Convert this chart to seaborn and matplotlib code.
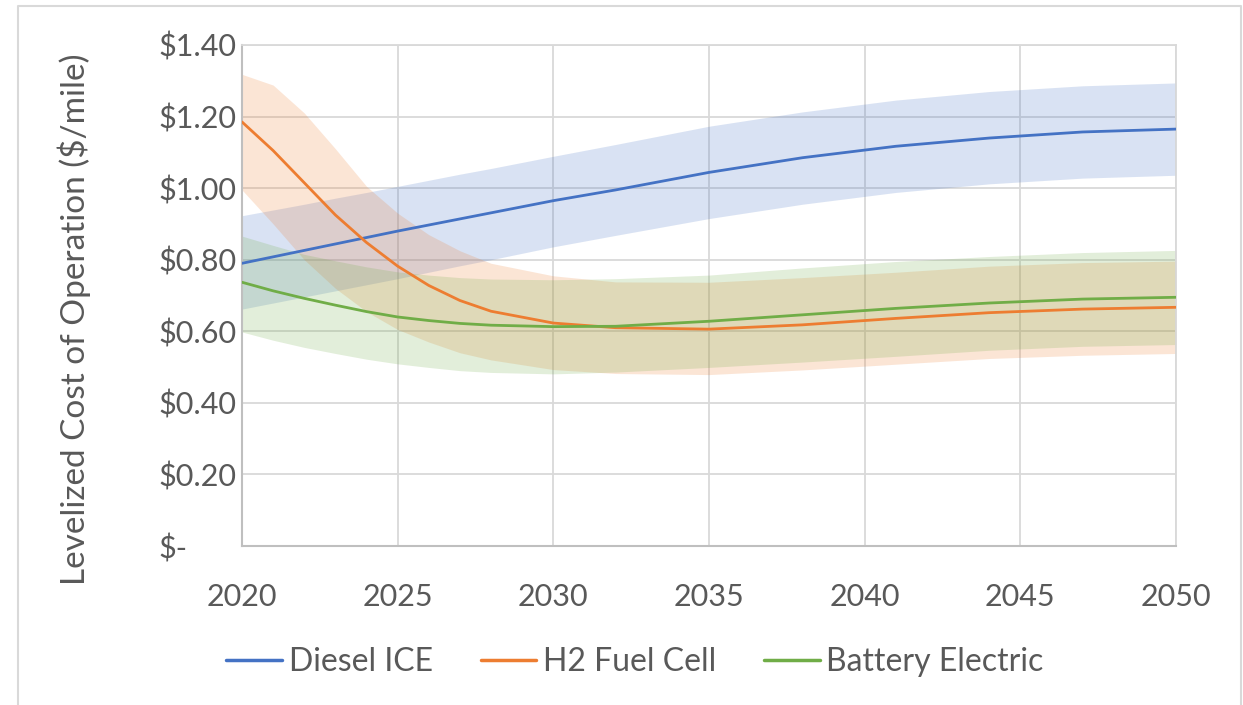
import pandas as pd
import seaborn as sns
import matplotlib.pyplot as plt
from matplotlib.ticker import FuncFormatter

years = [2020, 2021, 2022, 2023, 2024, 2025, 2026, 2027, 2028, 2030, 2032, 2035, 2038, 2041, 2044, 2047, 2050]

diesel_mid = [0.790, 0.808, 0.826, 0.844, 0.862, 0.880, 0.897, 0.914, 0.931, 0.965, 0.995, 1.044, 1.085, 1.117, 1.140, 1.157, 1.165]
diesel_hi = [0.923, 0.939, 0.955, 0.972, 0.988, 1.005, 1.022, 1.039, 1.055, 1.089, 1.122, 1.173, 1.213, 1.246, 1.270, 1.286, 1.294]
diesel_lo = [0.662, 0.679, 0.696, 0.713, 0.730, 0.747, 0.765, 0.783, 0.800, 0.836, 0.868, 0.915, 0.955, 0.988, 1.012, 1.028, 1.036]

h2_mid = [1.185, 1.105, 1.015, 0.925, 0.848, 0.782, 0.728, 0.686, 0.656, 0.623, 0.610, 0.606, 0.618, 0.636, 0.652, 0.662, 0.667]
h2_hi = [1.318, 1.288, 1.210, 1.110, 1.005, 0.930, 0.870, 0.825, 0.790, 0.755, 0.738, 0.737, 0.750, 0.765, 0.782, 0.792, 0.796]
h2_lo = [0.995, 0.900, 0.800, 0.720, 0.655, 0.605, 0.570, 0.540, 0.520, 0.493, 0.482, 0.479, 0.492, 0.508, 0.524, 0.533, 0.538]

bev_mid = [0.737, 0.713, 0.692, 0.673, 0.655, 0.640, 0.630, 0.622, 0.617, 0.613, 0.614, 0.628, 0.646, 0.664, 0.679, 0.690, 0.695]
bev_hi = [0.866, 0.840, 0.815, 0.797, 0.780, 0.766, 0.757, 0.750, 0.746, 0.744, 0.747, 0.757, 0.777, 0.795, 0.809, 0.820, 0.826]
bev_lo = [0.598, 0.575, 0.555, 0.538, 0.522, 0.509, 0.499, 0.490, 0.485, 0.481, 0.486, 0.499, 0.514, 0.530, 0.547, 0.558, 0.563]

series = ['Diesel ICE', 'H2 Fuel Cell', 'Battery Electric']
colors = ['#4472C4', '#ED7D31', '#70AD47']

sns.set_style('white')
plt.rcParams['font.family'] = ['Lato', 'DejaVu Sans']
plt.rcParams['font.size'] = 22
text_color = '#595959'

df = pd.concat([
    pd.DataFrame({'year': years, 'cost': diesel_mid, 'tech': 'Diesel ICE'}),
    pd.DataFrame({'year': years, 'cost': h2_mid, 'tech': 'H2 Fuel Cell'}),
    pd.DataFrame({'year': years, 'cost': bev_mid, 'tech': 'Battery Electric'}),
])

fig, ax = plt.subplots(figsize=(12.43, 7.05), dpi=100)
fig.subplots_adjust(left=242 / 1243, right=1176 / 1243, top=1 - 45 / 705, bottom=1 - 546 / 705)

# uncertainty bands
for lo, hi, c in [(diesel_lo, diesel_hi, colors[0]), (h2_lo, h2_hi, colors[1]), (bev_lo, bev_hi, colors[2])]:
    ax.fill_between(years, lo, hi, color=c, alpha=0.2, linewidth=0, zorder=1)

sns.lineplot(ax=ax, data=df, x='year', y='cost', hue='tech', hue_order=series,
             palette=colors, linewidth=2.0, legend=False, zorder=3)

ax.set_xlim(2020, 2050)
ax.set_ylim(0, 1.4)
ax.set_xticks(range(2020, 2051, 5))
ax.set_yticks([0, 0.2, 0.4, 0.6, 0.8, 1.0, 1.2, 1.4])
ax.yaxis.set_major_formatter(FuncFormatter(lambda v, p: '$-' if v == 0 else f'${v:.2f}'))
ax.grid(True, color='#d9d9d9', linewidth=1.3)
ax.set_axisbelow(True)
for side in ['top', 'right']:
    ax.spines[side].set_color('#d9d9d9')
    ax.spines[side].set_linewidth(1.3)
for side in ['left', 'bottom']:
    ax.spines[side].set_color('#bfbfbf')
    ax.spines[side].set_linewidth(1.5)

ax.tick_params(axis='both', length=0, colors=text_color, labelsize=22)
ax.tick_params(axis='x', pad=27)
ax.tick_params(axis='y', pad=60)
for lbl in ax.get_yticklabels():
    lbl.set_horizontalalignment('left')

ax.set_xlabel('')
ax.set_ylabel('Levelized Cost of Operation ($/mile)', color=text_color, fontsize=24)
ax.yaxis.set_label_coords(-0.162, 0.452)

handles = [plt.Line2D([], [], color=c, linewidth=2.5) for c in colors]
fig.legend(handles, series, loc='center', bbox_to_anchor=(635 / 1243, 1 - 662 / 705), ncol=3,
           frameon=False, handlelength=1.75, handletextpad=0.2, columnspacing=1.5,
           fontsize=23, labelcolor=text_color)

# outer chart border
fig.add_artist(plt.Line2D([18 / 1243, 18 / 1243, 1241 / 1243, 1241 / 1243],
                          [0, 1 - 6 / 705, 1 - 6 / 705, 0],
                          transform=fig.transFigure, color='#d9d9d9', linewidth=1.5))

plt.savefig('out.png', dpi=100)
plt.close()
